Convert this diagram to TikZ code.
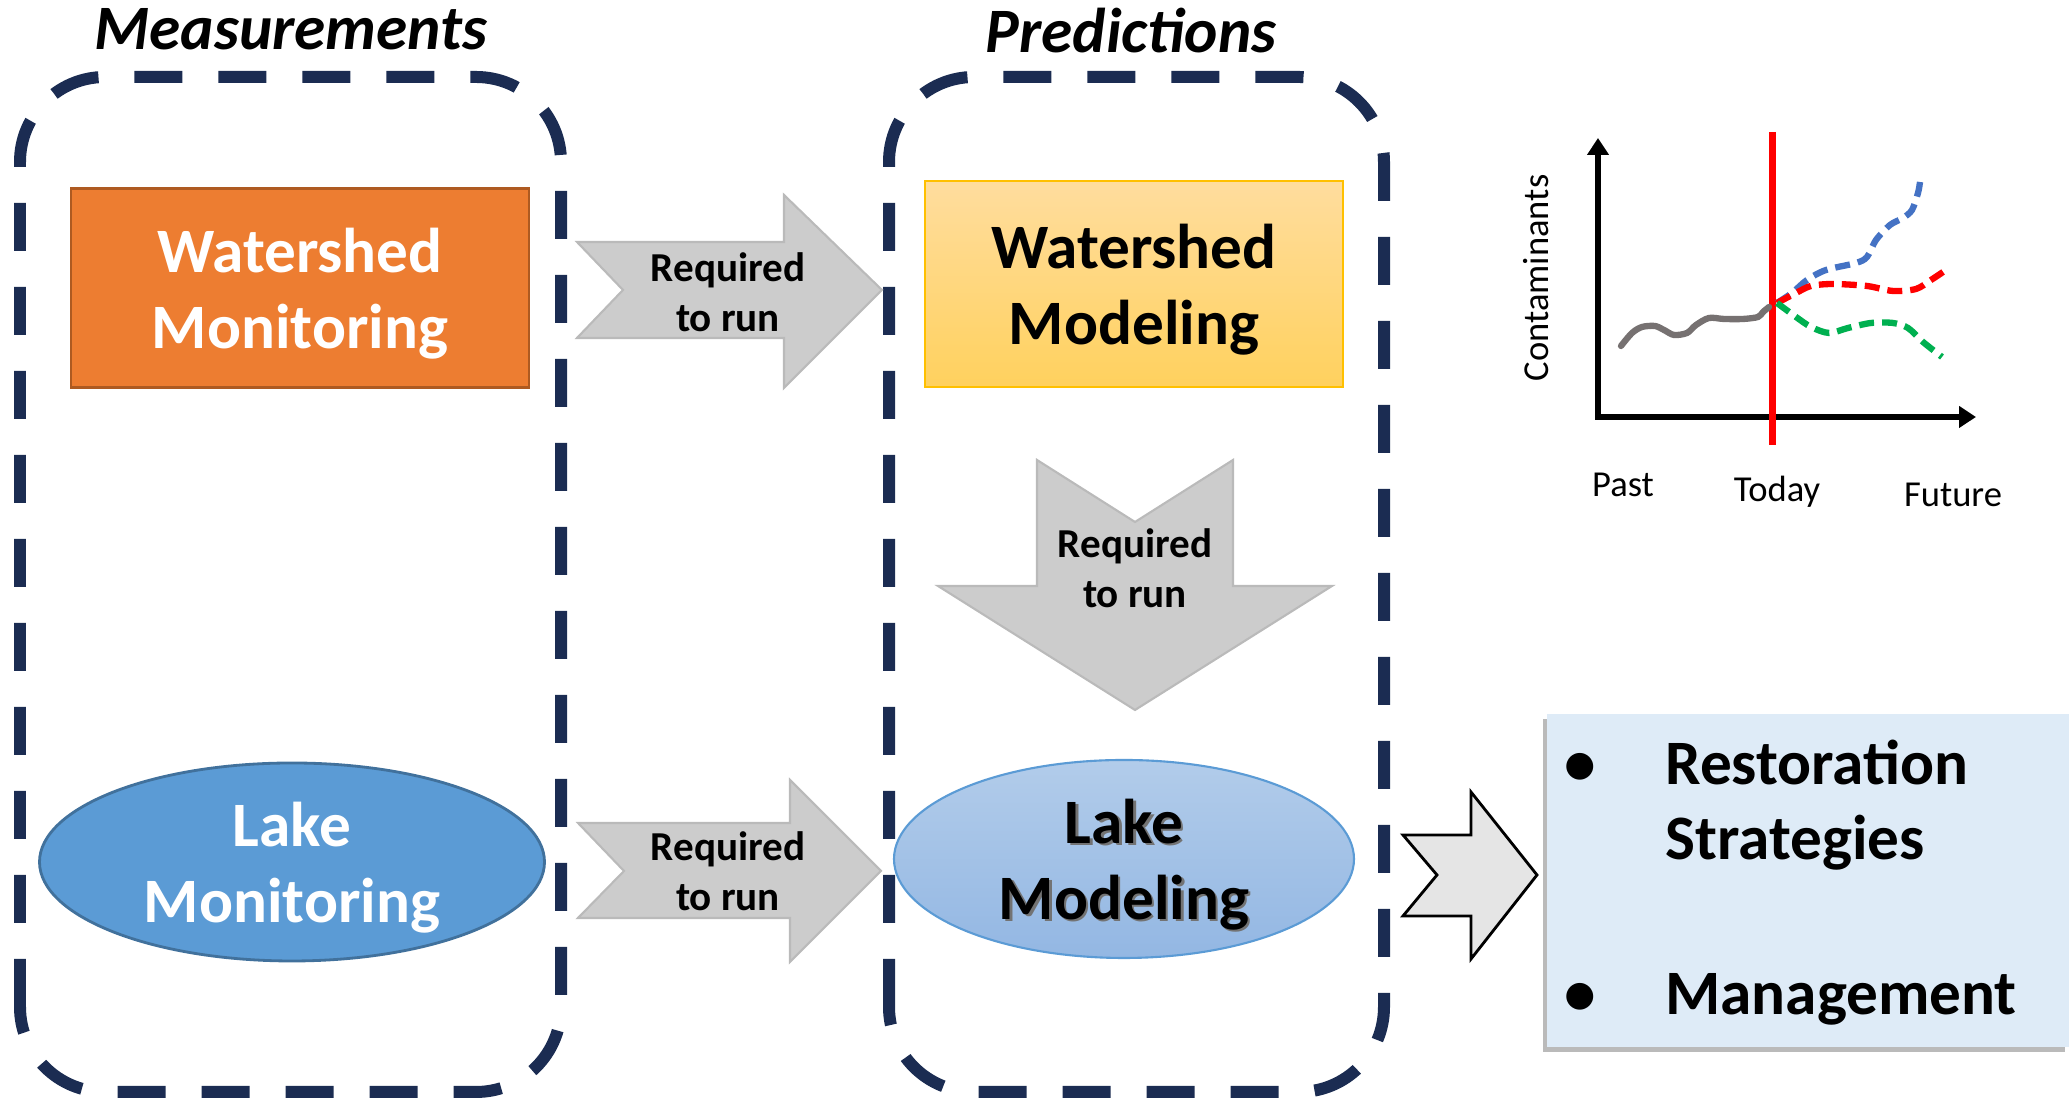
\documentclass[tikz,border=0pt]{standalone}
\usepackage{fontspec}
\setmainfont{Carlito}
\usetikzlibrary{shapes.geometric, arrows.meta, shadows}
\definecolor{navy}{HTML}{1B2C52}
\definecolor{orangefill}{HTML}{ED7D31}
\definecolor{orangeline}{HTML}{AE5A21}
\definecolor{lakefill}{HTML}{5B9BD5}
\definecolor{lakeline}{HTML}{41719C}
\definecolor{wmtop}{HTML}{FFDD9E}
\definecolor{wmbot}{HTML}{FFD15E}
\definecolor{wmline}{HTML}{FFC000}
\definecolor{lmtop}{HTML}{B2CCEA}
\definecolor{lmbot}{HTML}{93B7E3}
\definecolor{outfill}{HTML}{DEEBF7}
\definecolor{pastgray}{HTML}{767171}
\definecolor{blueline}{HTML}{4472C4}
\definecolor{greenline}{HTML}{00B050}

\begin{document}
\begin{tikzpicture}
	\tikzstyle{groupbox} = [draw=navy,line width=0.12cm,dash pattern=on 0.48cm off 0.36cm,rounded corners=0.85cm]
	\tikzstyle{headtext} = [font=\fontsize{18}{21.6}\selectfont\bfseries\itshape,anchor=base]
	\tikzstyle{boxtext} = [font=\fontsize{18}{21.6}\selectfont\bfseries,align=center]
	\tikzstyle{reqarrow} = [fill=black!20,draw=black!27,line width=0.6pt]
	\tikzstyle{reqtext} = [font=\fontsize{11.7}{14.2}\selectfont\bfseries,align=center]
	\tikzstyle{ticktext} = [font=\fontsize{10.4}{12.5}\selectfont,anchor=base]
	\tikzstyle{scenario} = [line width=1.8pt,dash pattern=on 0.15cm off 0.08cm]
	\useasboundingbox (0,0) rectangle (20.69,10.98);
	\draw[groupbox] (0.20,0.06) rectangle (5.61,10.21);
	\draw[groupbox] (8.89,0.06) rectangle (13.84,10.21);
	\node[headtext] (meas) at (2.91,10.48) {Measurements};
	\node[headtext] (pred) at (11.31,10.45) {Predictions};
	\node[boxtext,fill=orangefill,draw=orangeline,line width=0.8pt,text=white,text depth=0pt,minimum width=4.58cm,minimum height=1.99cm] (wmon) at (3.00,8.10) {Watershed\\Monitoring};
	\node[boxtext,ellipse,fill=lakefill,draw=lakeline,line width=0.8pt,text=white,text depth=0pt,inner sep=0pt,minimum width=5.05cm,minimum height=1.98cm] (lmon) at (2.92,2.36) {Lake\\Monitoring};
	\node[boxtext,top color=wmtop,bottom color=wmbot,draw=wmline,line width=0.6pt,text depth=0pt,minimum width=4.18cm,minimum height=2.06cm] (wmod) at (11.34,8.14) {Watershed\\Modeling};
	\node[boxtext,ellipse,top color=lmtop,bottom color=lmbot,draw=lakefill,line width=0.6pt,text depth=0pt,inner sep=0pt,minimum width=4.60cm,minimum height=1.98cm] (lmod) at (11.24,2.39) {};
	\node[boxtext,text=black!55,text depth=0pt] (lmodsh) at (11.265,2.365) {Lake\\Modeling};
	\node[boxtext,text depth=0pt] (lmodtext) at (11.24,2.39) {Lake\\Modeling};
	\draw[reqarrow] (5.77,8.56) -- (7.84,8.56) -- (7.84,9.03) -- (8.82,8.08) -- (7.84,7.10) -- (7.84,7.60) -- (5.77,7.60) -- (6.23,8.08) -- cycle;
	\node[reqtext] (req1) at (7.28,8.06) {Required\\to run};
	\draw[reqarrow] (5.78,2.75) -- (7.90,2.75) -- (7.90,3.18) -- (8.81,2.27) -- (7.90,1.36) -- (7.90,1.80) -- (5.78,1.80) -- (6.24,2.27) -- cycle;
	\node[reqtext] (req2) at (7.28,2.27) {Required\\to run};
	\draw[reqarrow] (10.37,6.38) -- (11.35,5.76) -- (12.33,6.38) -- (12.33,5.12) -- (13.32,5.12) -- (11.35,3.88) -- (9.38,5.12) -- (10.37,5.12) -- cycle;
	\node[reqtext] (req3) at (11.35,5.30) {Required\\to run};
	\draw[fill=black!10,draw=black,line width=0.8pt] (14.03,2.63) -- (14.71,2.63) -- (14.71,3.06) -- (15.37,2.23) -- (14.71,1.39) -- (14.71,1.82) -- (14.03,1.82) -- (14.37,2.23) -- cycle;
	\node[fill=outfill,minimum width=5.22cm,minimum height=3.33cm,drop shadow={shadow xshift=-0.04cm,shadow yshift=-0.05cm,fill=black!45,opacity=0.6}] (outc) at (18.08,2.175) {};
	\node[boxtext,anchor=base] (b1) at (15.80,3.13) {\textbullet};
	\node[boxtext,anchor=base west] (rest) at (16.53,3.13) {Restoration};
	\node[boxtext,anchor=base west] (strat) at (16.53,2.38) {Strategies};
	\node[boxtext,anchor=base] (b2) at (15.80,0.83) {\textbullet};
	\node[boxtext,anchor=base west] (mgmt) at (16.53,0.83) {Management};
	\draw[line width=1.5pt,line join=miter,{Triangle[length=0.17cm,width=0.21cm]}-{Triangle[length=0.17cm,width=0.21cm]}] (15.98,9.60) -- (15.98,6.81) -- (19.76,6.81);
	\draw[red,line width=2pt] (17.72,9.66) -- (17.72,6.53);
	\draw[pastgray,line width=1.8pt,line cap=round] plot[smooth] coordinates {(16.21,7.52) (16.32,7.65) (16.42,7.71) (16.55,7.72) (16.64,7.68) (16.74,7.63) (16.87,7.65) (16.96,7.73) (17.09,7.80) (17.24,7.79) (17.43,7.79) (17.58,7.81) (17.63,7.86) (17.69,7.91)};
	\draw[scenario,blueline] plot[smooth] coordinates {(17.77,7.95) (17.92,8.05) (18.07,8.18) (18.26,8.28) (18.56,8.35) (18.67,8.41) (18.76,8.58) (18.90,8.73) (19.03,8.80) (19.12,8.88) (19.18,9.05) (19.20,9.16)};
	\draw[scenario,red] plot[smooth] coordinates {(17.77,7.95) (17.96,8.05) (18.11,8.12) (18.33,8.14) (18.67,8.12) (18.93,8.07) (19.16,8.09) (19.31,8.18) (19.46,8.28)};
	\draw[scenario,greenline] plot[smooth] coordinates {(17.77,7.95) (17.96,7.81) (18.11,7.71) (18.29,7.65) (18.48,7.70) (18.71,7.75) (18.93,7.75) (19.08,7.70) (19.23,7.56) (19.42,7.41)};
	\node[ticktext,rotate=90] (cont) at (15.48,8.20) {Contaminants};
	\node[ticktext] (past) at (16.23,6.01) {Past};
	\node[ticktext] (today) at (17.77,5.96) {Today};
	\node[ticktext] (fut) at (19.53,5.91) {Future};
\end{tikzpicture}
\end{document}
